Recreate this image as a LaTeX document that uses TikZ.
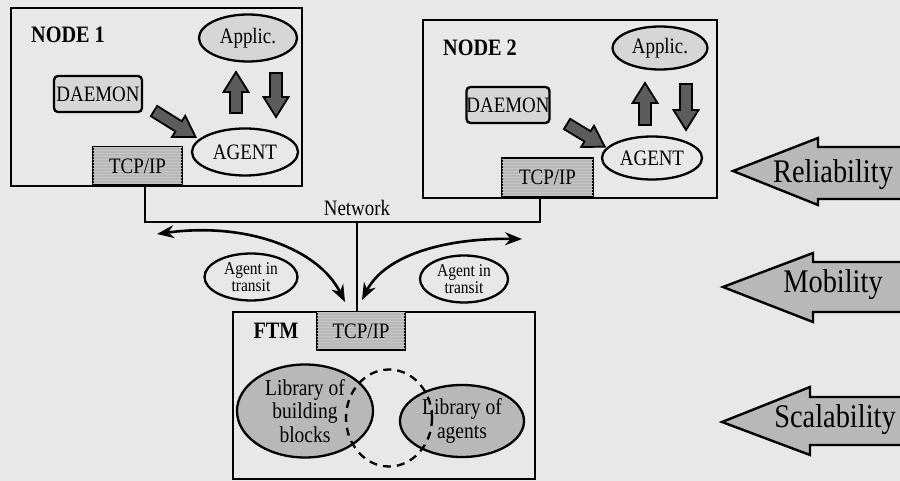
\documentclass[tikz,border=0pt]{standalone}
\usepackage{fontspec}
\setmainfont{Liberation Serif}[FakeStretch=0.86]
\usetikzlibrary{shapes.geometric,arrows.meta,patterns}
\definecolor{paper}{gray}{0.91}
\definecolor{lightfill}{gray}{0.84}
\definecolor{midfill}{gray}{0.72}
\definecolor{darkfill}{gray}{0.36}

% thick block arrow: #1 style, #2 tail centre, #3 angle, #4 length
\newcommand{\fatarrow}[4]{%
  \begin{scope}[shift={#2}, rotate=#3]
    \draw[#1] (0,-6) -- ({#4-20},-6) -- ({#4-20},-12.5) -- (#4,0)
      -- ({#4-20},12.5) -- ({#4-20},6) -- (0,6) -- cycle;
  \end{scope}}

\begin{document}
\begin{tikzpicture}[x=1pt, y=-1pt,
  frame/.style={draw, line width=2.8, inner sep=0},
  title/.style={font=\bfseries\fontsize{23.5}{24}\selectfont, inner sep=0},
  txt/.style={font=\fontsize{22}{24}\selectfont},
  oval/.style={ellipse, draw, line width=2.3, inner sep=0, txt},
  appl/.style={oval, fill=lightfill},
  agentov/.style={oval, fill=paper},
  daemon/.style={draw, line width=2.3, rounded corners=4, fill=lightfill, inner sep=0, txt},
  tcp/.style={draw, line width=2.3, fill=midfill, inner sep=0, txt,
    postaction={pattern=horizontal lines, pattern color=gray!45}},
  lib/.style={oval, fill=midfill, align=center, font=\fontsize{22.7}{23.5}\selectfont},
  transit/.style={oval, fill=paper, align=center, font=\fontsize{18}{17.5}\selectfont},
  fat/.style={draw, line width=1.8, fill=darkfill, line join=miter},
  net/.style={line width=2.8},
  move/.style={line width=2.6, {Stealth[length=17pt,width=13pt]}-{Stealth[length=17pt,width=13pt]}},
  quality/.style={draw, line width=2.4, fill=midfill, line join=miter},
  qtext/.style={font=\fontsize{33}{34}\selectfont, inner sep=0}]

\clip (0,0) rectangle (900,481);
\fill[paper] (0,0) rectangle (900,481);

% ---------- node 1 ----------
\node[frame, minimum width=291, minimum height=178] (n1) at (156.5,97) {};
\node[title] (n1t) at (68,35) {NODE 1};
\node[appl, minimum width=98, minimum height=47] (app1) at (248,38) {Applic.};
\node[daemon, minimum width=88, minimum height=36] (dae1) at (98,94) {DAEMON};
\node[agentov, minimum width=106, minimum height=47] (ag1) at (245,152) {AGENT};
\node[tcp, minimum width=89, minimum height=38] (tcp1) at (137.5,166) {TCP/IP};
\fatarrow{fat}{(236,113)}{90}{41}
\fatarrow{fat}{(276,73)}{-90}{44}
\fatarrow{fat}{(154,111)}{-32}{49}

% ---------- node 2 ----------
\node[frame, minimum width=294, minimum height=178] (n2) at (570,109) {};
\node[title] (n2t) at (480,48) {NODE 2};
\node[appl, minimum width=95, minimum height=43] (app2) at (660,48) {Applic.};
\node[daemon, minimum width=83, minimum height=36] (dae2) at (508,105) {DAEMON};
\node[agentov, minimum width=100, minimum height=43] (ag2) at (652,158) {AGENT};
\node[tcp, minimum width=91, minimum height=39] (tcp2) at (547.5,177.5) {TCP/IP};
\fatarrow{fat}{(645,125)}{90}{42}
\fatarrow{fat}{(686,84)}{-90}{46}
\fatarrow{fat}{(567,124)}{-31}{44}

% ---------- network ----------
\coordinate (netL) at (145,222);
\coordinate (netR) at (540,222);
\coordinate (netM) at (357,222);
\node[txt, inner sep=0] (netlbl) at (357,208) {Network};

% ---------- FTM ----------
\node[frame, minimum width=302, minimum height=167] (ftm) at (384,395.5) {};
\node[title] (ftmt) at (276,331) {FTM};
\node[tcp, minimum width=88, minimum height=38] (tcpF) at (361,331) {TCP/IP};
\node[lib, minimum width=136, minimum height=93] (libB) at (305,411) {Library of\\building\\blocks};
\node[lib, minimum width=124, minimum height=72] (libA) at (462,421) {Library of\\agents};
\draw[line width=2.3, dash pattern=on 8pt off 6pt] (389,418) ellipse [x radius=43, y radius=48.5];

\draw[net] ([xshift=7.5]tcp1.south) -- (netL) -- (netR) -- ([xshift=-7.5]tcp2.south);
\draw[net] (netM) -- ([xshift=-4]tcpF.north);

% agents moving between the nodes and the FTM
\coordinate (toN1) at (157,234);
\coordinate (toN2) at (522,239);
\coordinate (inL) at (345,302);
\coordinate (inR) at (362,300);
\draw[move] (toN1) .. controls (245,222) and (318,248) .. (inL);
\draw[move] (toN2) .. controls (445,238) and (385,255) .. (inR);
\node[transit, minimum width=93, minimum height=47] (trL) at (251,277) {Agent in\\transit};
\node[transit, minimum width=88, minimum height=47] (trR) at (464,279) {Agent in\\transit};

% ---------- properties ----------
\draw[quality] (733,171) -- (818,138) -- (818,147) -- (910,147) -- (910,199)
  -- (818,199) -- (818,205) -- cycle;
\node[qtext] (rel) at (833,175) {Reliability};
\draw[quality] (723,287) -- (813,253) -- (813,262) -- (910,262) -- (910,312)
  -- (813,312) -- (813,322) -- cycle;
\node[qtext] (mob) at (833,285) {Mobility};
\draw[quality] (722,422) -- (810,387) -- (810,397) -- (910,397) -- (910,445)
  -- (810,445) -- (810,455) -- cycle;
\node[qtext] (scal) at (835,420) {Scalability};

\end{tikzpicture}
\end{document}
